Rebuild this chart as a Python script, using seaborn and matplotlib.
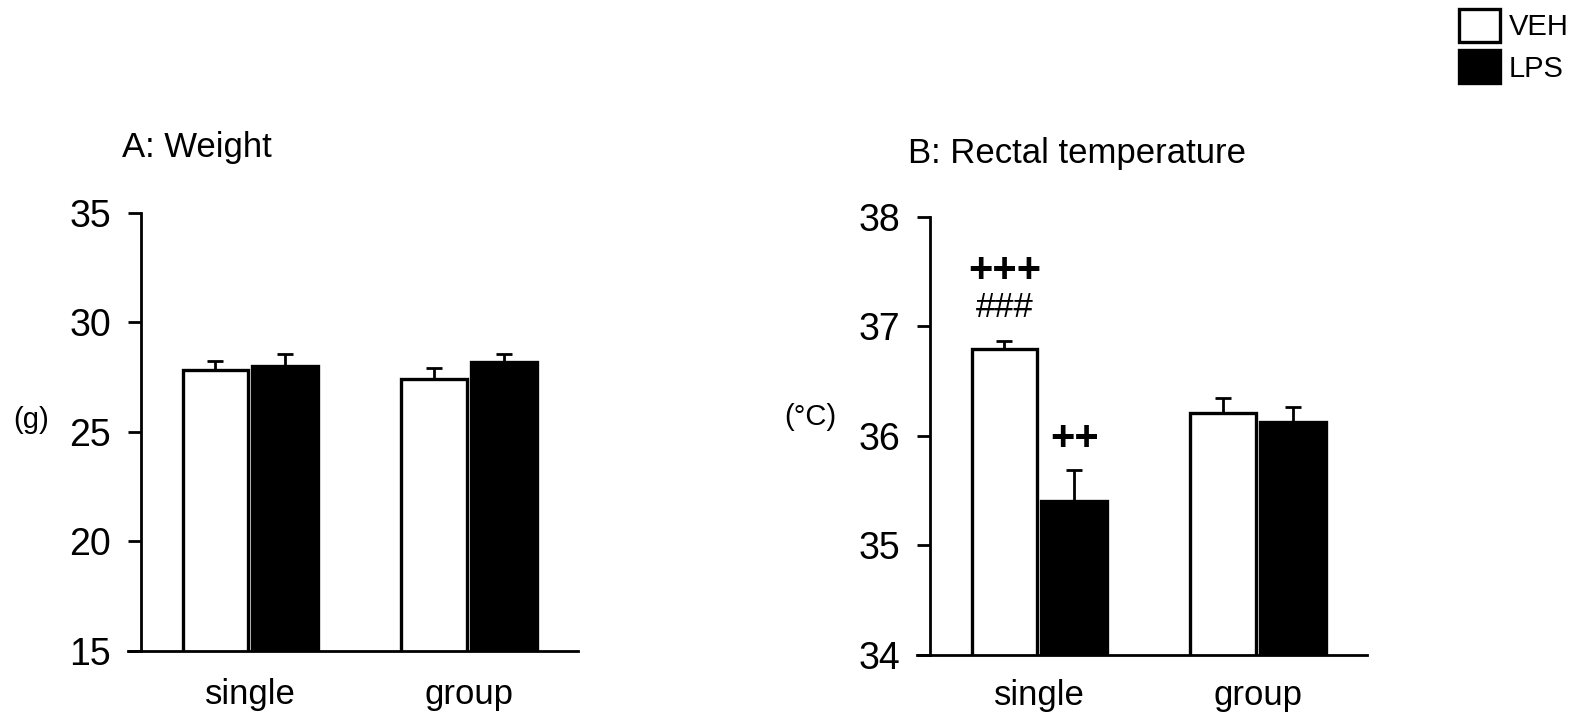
import numpy as np
import pandas as pd
import matplotlib
matplotlib.use("Agg")
import matplotlib.pyplot as plt
from matplotlib.patches import Patch
import seaborn as sns

# ---- data ----
housing = ["single", "group"]
treatments = ["VEH", "LPS"]
weight_veh = [27.8, 27.4]
weight_lps = [28.0, 28.2]
weight_veh_err = [0.45, 0.52]
weight_lps_err = [0.57, 0.34]
temp_veh = [36.79, 36.21]
temp_lps = [35.41, 36.13]
temp_veh_err = [0.08, 0.14]
temp_lps_err = [0.28, 0.13]
weight_ticks = [15, 20, 25, 30, 35]
temp_ticks = [34, 35, 36, 37, 38]

sns.set_style("white")
plt.rcParams["font.family"] = ["Liberation Sans", "DejaVu Sans"]
plt.rcParams["text.color"] = "black"
plt.rcParams["axes.labelcolor"] = "black"
plt.rcParams["xtick.color"] = "black"
plt.rcParams["ytick.color"] = "black"

palette = {"VEH": "white", "LPS": "black"}
LW = 2.0

fig = plt.figure(figsize=(15.8, 7.13), dpi=100)
axA = fig.add_axes([0.0810, 0.0874, 0.2848, 0.6143])
axB = fig.add_axes([0.5804, 0.0813, 0.2848, 0.6148])


def panel(ax, veh, lps, veh_err, lps_err, ticks, ylabel, lab_xy, xpad):
    df = pd.DataFrame({
        "housing": housing * 2,
        "treatment": ["VEH"] * len(housing) + ["LPS"] * len(housing),
        "value": list(veh) + list(lps),
    })
    sns.barplot(data=df, x="housing", y="value", hue="treatment",
                order=housing, hue_order=treatments, palette=palette,
                edgecolor="black", linewidth=2.4, width=0.64, gap=0.06,
                errorbar=None, legend=False, ax=ax, zorder=2)
    for cont, errs in zip(ax.containers, [veh_err, lps_err]):
        xs = [p.get_x() + p.get_width() / 2 for p in cont]
        ys = [p.get_y() + p.get_height() for p in cont]
        ax.errorbar(xs, ys, yerr=[np.zeros(len(errs)), errs], fmt="none",
                    ecolor="black", elinewidth=LW, capsize=6, capthick=LW,
                    zorder=1)
    ax.set_ylim(ticks[0], ticks[-1])
    ax.set_yticks(ticks)
    ax.set_xlim(-0.56, 1.5)
    ax.spines["left"].set_position(("data", -0.5))
    ax.spines["right"].set_visible(False)
    ax.spines["top"].set_visible(False)
    for s in ["left", "bottom"]:
        ax.spines[s].set_linewidth(LW)
        ax.spines[s].set_color("black")
    ax.tick_params(axis="y", direction="out", length=9.4, width=LW,
                   labelsize=27, pad=12, left=True, colors="black")
    ax.tick_params(axis="x", length=0, labelsize=25, pad=xpad, colors="black")
    ax.set_xlabel("")
    ax.set_ylabel(ylabel, rotation=0, fontsize=21, ha="center", va="center")
    ax.yaxis.set_label_coords(*lab_xy)


panel(axA, weight_veh, weight_lps, weight_veh_err, weight_lps_err,
      weight_ticks, "(g)", (-0.215, 0.527), 20)
panel(axB, temp_veh, temp_lps, temp_veh_err, temp_lps_err,
      temp_ticks, "(°C)", (-0.238, 0.543), 17)

fig.text(121.7 / 1580, 1 - 156.7 / 713, "A: Weight", fontsize=25,
         ha="left", va="baseline")
fig.text(908 / 1580, 1 - 162.7 / 713, "B: Rectal temperature", fontsize=25,
         ha="left", va="baseline")

# significance marks over the single-housed bars
vx = [p.get_x() + p.get_width() / 2 for p in axB.containers[0]]
lx = [p.get_x() + p.get_width() / 2 for p in axB.containers[1]]
axB.text(vx[0], 37.5, "+++", fontsize=30, fontweight="bold",
         ha="center", va="center")
axB.text(vx[0], 37.17, "###", fontsize=25, ha="center", va="center")
axB.text(lx[0], 35.97, "++", fontsize=30, fontweight="bold",
         ha="center", va="center")

handles = [Patch(facecolor=palette[t], edgecolor="black", linewidth=2.4,
                 label=t) for t in treatments]
fig.legend(handles=handles, loc="upper left",
           bbox_to_anchor=(1459 / 1580, 1 - 9 / 713), frameon=False,
           fontsize=21, handlelength=1.4, handleheight=1.35,
           handletextpad=0.3, labelspacing=0.3, borderpad=0,
           borderaxespad=0)

fig.savefig("out.png", dpi=100, facecolor="white")
